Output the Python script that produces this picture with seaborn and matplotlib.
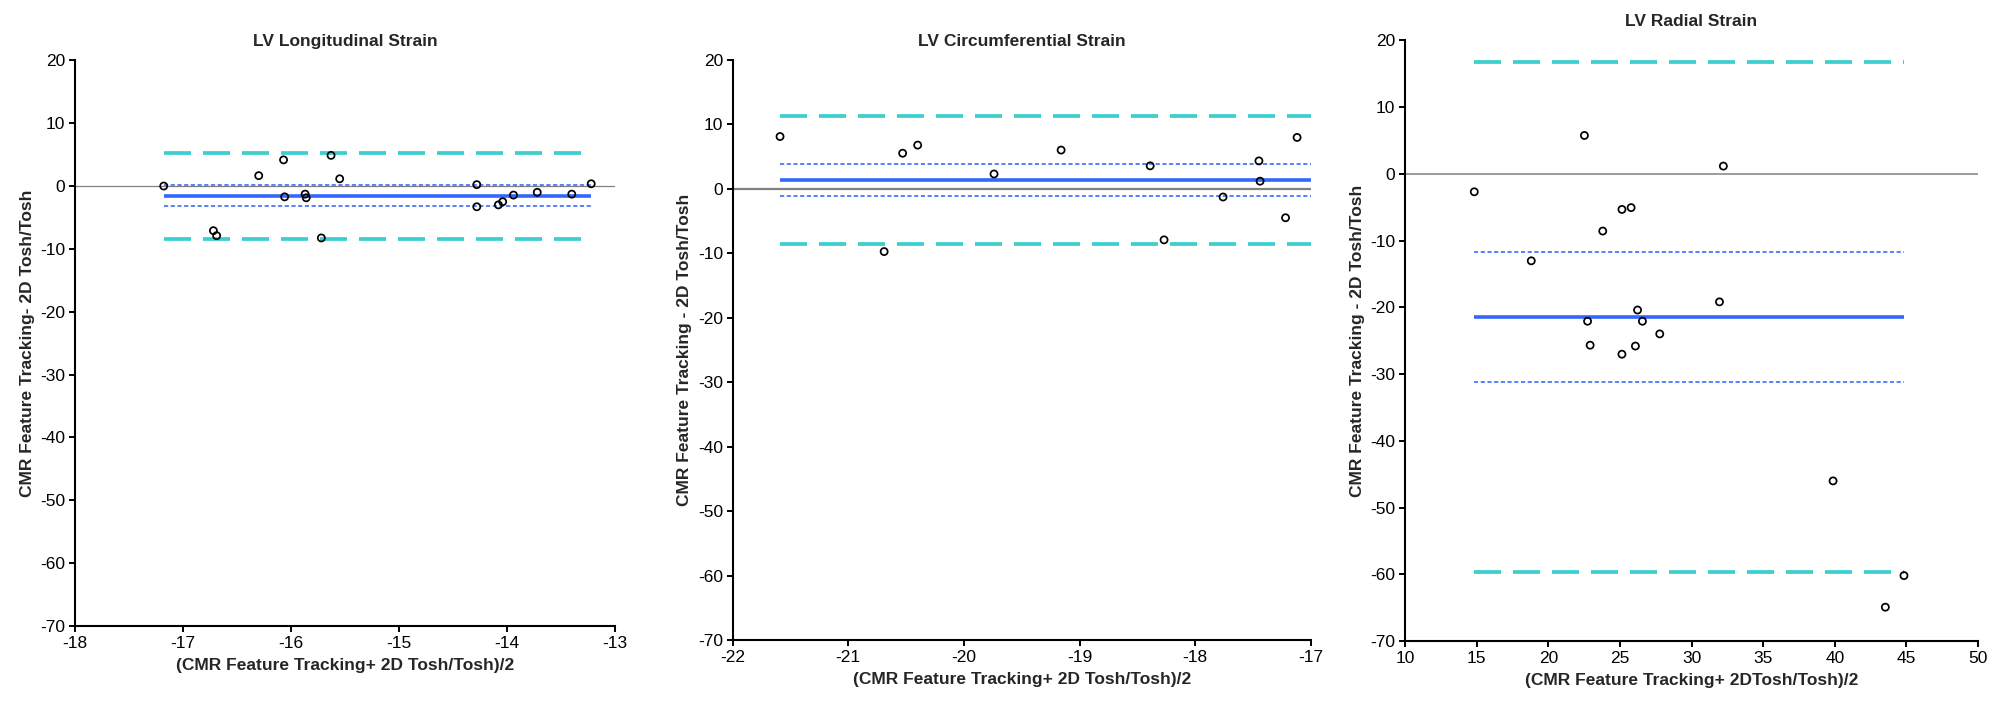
import matplotlib
matplotlib.use("Agg")
import matplotlib.pyplot as plt
import seaborn as sns
import numpy as np

# ---------------- data ----------------
# LV Longitudinal Strain
long_mean_x = [-17.18, -16.30, -16.07, -16.06, -15.87, -15.86, -16.72, -16.69, -15.72, -15.63,
               -15.55, -14.28, -14.28, -14.08, -14.04, -13.94, -13.72, -13.40, -13.22]
long_diff_y = [0.0, 1.65, 4.16, -1.72, -1.29, -1.87, -7.1, -7.9, -8.26, 4.88,
               1.15, 0.22, -3.3, -3.0, -2.5, -1.44, -1.0, -1.29, 0.36]
long_bias, long_ci, long_loa = -1.58, (0.18, -3.25), (5.33, -8.35)

# LV Circumferential Strain
circ_mean_x = [-21.59, -20.69, -20.53, -20.40, -19.74, -19.16, -18.39, -18.27, -17.76, -17.45,
               -17.44, -17.22, -17.12]
circ_diff_y = [8.12, -9.73, 5.53, 6.79, 2.31, 6.02, 3.57, -7.91, -1.26, 4.34,
               1.19, -4.48, 7.98]
circ_bias, circ_ci, circ_loa = 1.38, (3.84, -1.08), (11.28, -8.62)

# LV Radial Strain
rad_mean_x = [14.83, 18.81, 22.52, 22.74, 22.92, 23.80, 25.14, 25.78, 25.14, 26.08,
              26.23, 26.57, 27.78, 31.95, 32.22, 39.88, 43.53, 44.83]
rad_diff_y = [-2.70, -13.04, 5.74, -22.09, -25.68, -8.58, -5.34, -5.07, -27.03, -25.81,
              -20.41, -22.09, -23.99, -19.19, 1.15, -46.01, -64.93, -60.2]
rad_bias, rad_ci, rad_loa = -21.49, (-11.76, -31.22), (16.76, -59.73)

titles = ["LV Longitudinal Strain", "LV Circumferential Strain", "LV Radial Strain"]
xlabels = ["(CMR Feature Tracking+ 2D Tosh/Tosh)/2",
           "(CMR Feature Tracking+ 2D Tosh/Tosh)/2",
           "(CMR Feature Tracking+ 2DTosh/Tosh)/2"]
ylabels = ["CMR Feature Tracking- 2D Tosh/Tosh",
           "CMR Feature Tracking - 2D Tosh/Tosh",
           "CMR Feature Tracking - 2D Tosh/Tosh"]
xlims = [(-18, -13), (-22, -17), (10, 50)]
xticks = [[-18, -17, -16, -15, -14, -13], [-22, -21, -20, -19, -18, -17],
          [10, 15, 20, 25, 30, 35, 40, 45, 50]]
yticks = [20, 10, 0, -10, -20, -30, -40, -50, -60, -70]

# ---------------- style ----------------
sns.set_theme(style="ticks")
plt.rcParams['font.family'] = ['Liberation Sans', 'DejaVu Sans']
plt.rcParams['axes.linewidth'] = 1.5

TEAL = "#3CCFCF"
BLUE = "#3366FF"
GREY = "#808080"

fig = plt.figure(figsize=(20.11, 7.08), dpi=100)
positions = [
    [0.0374, 0.1158, 0.2684, 0.7990],
    [0.3643, 0.0960, 0.2876, 0.8193],
    [0.6987, 0.0946, 0.2849, 0.8485],
]
panels = [
    (long_mean_x, long_diff_y, long_bias, long_ci, long_loa, 0.9, None),
    (circ_mean_x, circ_diff_y, circ_bias, circ_ci, circ_loa, 1.6, xlims[1][1]),
    (rad_mean_x, rad_diff_y, rad_bias, rad_ci, rad_loa, 1.1, None),
]

for i, (pos, (mx, dy, bias, ci, loa, zlw, xend)) in enumerate(zip(positions, panels)):
    ax = fig.add_axes(pos)
    x0 = min(mx)
    x1 = max(mx) if xend is None else xend

    ax.axhline(0, color=GREY, lw=zlw, zorder=1)
    for v in loa:
        ax.hlines(v, x0, x1, color=TEAL, lw=2.7, linestyles=(0, (7.2, 3.2)), zorder=2)
    for v in ci:
        ax.hlines(v, x0, x1, color=BLUE, lw=1.15, linestyles=(0, (2.6, 1.6)), zorder=2)
    ax.hlines(bias, x0, x1, color=BLUE, lw=2.6, zorder=2)

    sns.scatterplot(x=mx, y=dy, ax=ax, s=26, zorder=5, legend=False)
    pts = ax.collections[-1]
    pts.set_facecolor("none")
    pts.set_edgecolor("black")
    pts.set_linewidth(1.25)

    ax.set_xlim(*xlims[i])
    ax.set_ylim(-70, 20)
    ax.set_xticks(xticks[i])
    ax.set_yticks(yticks)
    ax.set_xticklabels([str(t) for t in xticks[i]])
    ax.set_yticklabels([str(t) for t in yticks])
    ax.tick_params(axis="both", direction="out", length=4, width=1.4, colors="black",
                   labelsize=12.5, pad=3)
    for s in ["top", "right"]:
        ax.spines[s].set_visible(False)
    for s in ["left", "bottom"]:
        ax.spines[s].set_color("black")

    ax.set_title(titles[i], fontsize=12.5, fontweight="bold", pad=10)
    ax.set_xlabel(xlabels[i], fontsize=12.5, fontweight="bold", labelpad=5)
    ax.set_ylabel(ylabels[i], fontsize=12.5, fontweight="bold", labelpad=4)

fig.savefig("out.png", dpi=100, facecolor="white")
